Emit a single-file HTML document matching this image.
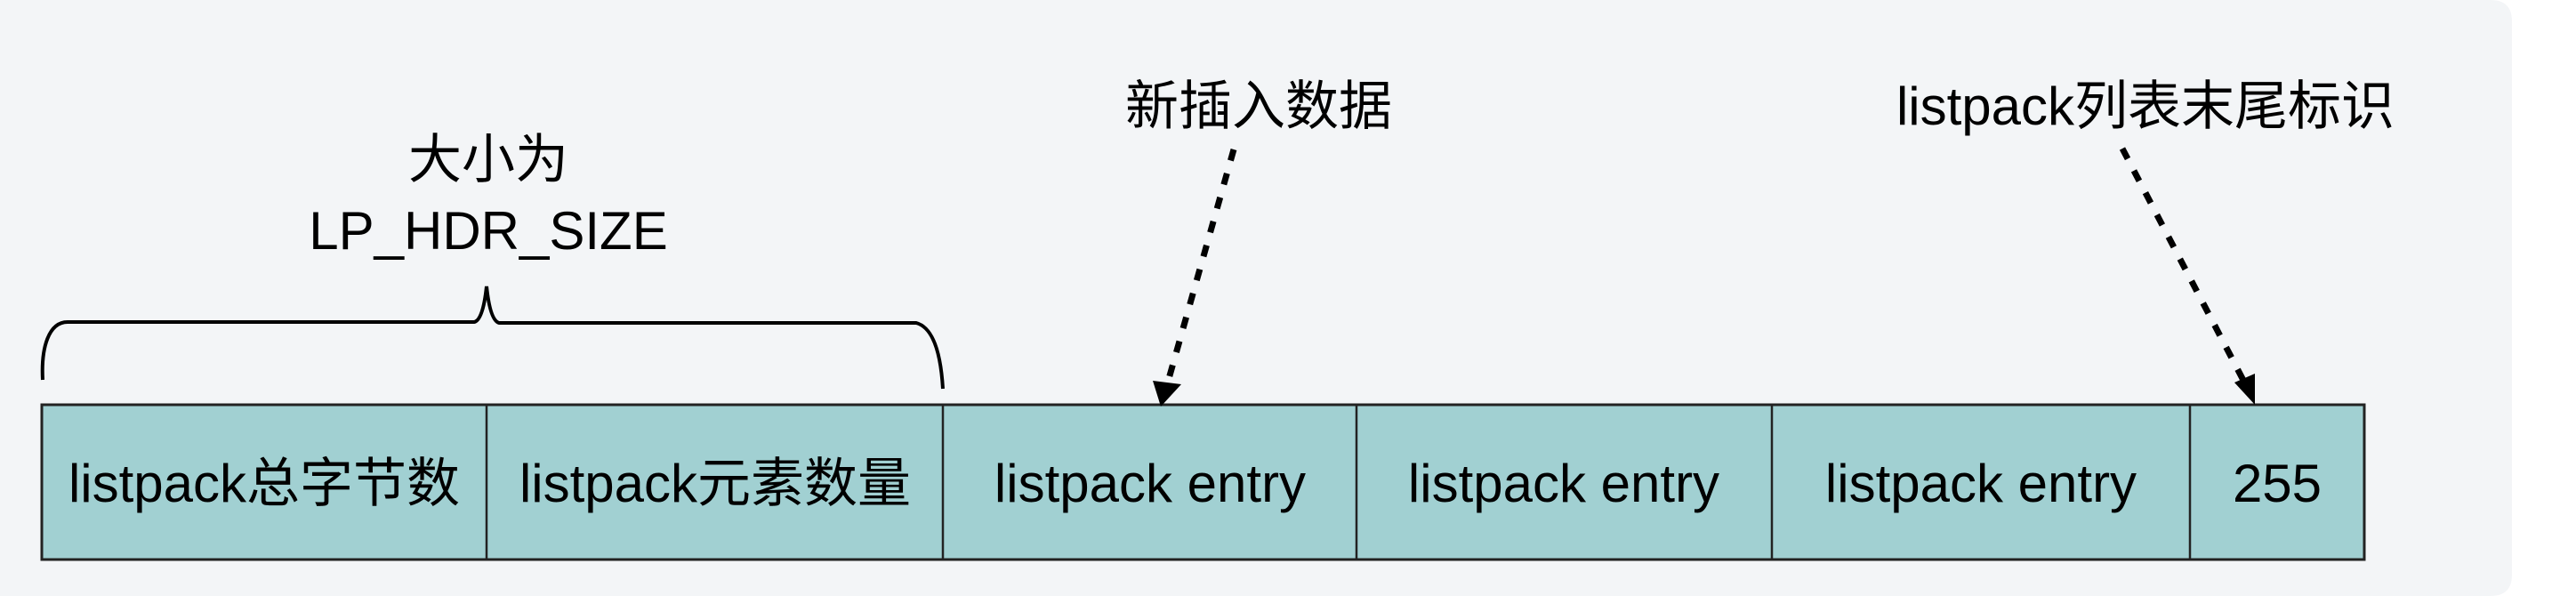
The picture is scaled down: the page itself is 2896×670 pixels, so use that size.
<!DOCTYPE html>
<html><head><meta charset="utf-8"><style>
html,body{margin:0;padding:0;background:#fff;}
svg{display:block}
text{font-family:"Liberation Sans","Noto Sans CJK SC",sans-serif;font-size:60px;fill:#000;}
</style></head><body>
<svg width="2896" height="670" viewBox="0 0 2896 670" xmlns="http://www.w3.org/2000/svg">
<path d="M0,0 H2800 Q2824,0 2824,24 V646 Q2824,670 2800,670 H0 Z" fill="#f3f5f7"/>
<rect x="47" y="455" width="2611" height="174" fill="#a1d0d2" stroke="#222" stroke-width="3"/>
<g stroke="#222" stroke-width="2.5">
<line x1="547" y1="455" x2="547" y2="629"/>
<line x1="1060" y1="455" x2="1060" y2="629"/>
<line x1="1525" y1="455" x2="1525" y2="629"/>
<line x1="1992" y1="455" x2="1992" y2="629"/>
<line x1="2462" y1="455" x2="2462" y2="629"/>
</g>
<g text-anchor="middle">
<text x="297" y="564">listpack总字节数</text>
<text x="804" y="564">listpack元素数量</text>
<text x="1293" y="564">listpack entry</text>
<text x="1758" y="564">listpack entry</text>
<text x="2227" y="564">listpack entry</text>
<text x="2560" y="564">255</text>
<text x="549" y="200">大小为</text>
<text x="549" y="280">LP_HDR_SIZE</text>
<text x="1415" y="140">新插入数据</text>
<text x="2412" y="140">listpack列表末尾标识</text>
</g>
<path d="M48,427 C46,390 55,362 76,362 L533,362 Q543,360 547,322 Q551,360 561,363 L1030,363 Q1056,370 1060,437" fill="none" stroke="#000" stroke-width="4"/>
<line x1="1387" y1="168" x2="1310" y2="440" stroke="#000" stroke-width="7" stroke-dasharray="13 15"/>
<path d="M1305,457 L1296,428 L1328,432 Z" fill="#000"/>
<line x1="2386" y1="167" x2="2527" y2="437" stroke="#000" stroke-width="7" stroke-dasharray="13 15"/>
<path d="M2535,455 L2512,430 L2535,420 Z" fill="#000"/>
</svg>
</body></html>
